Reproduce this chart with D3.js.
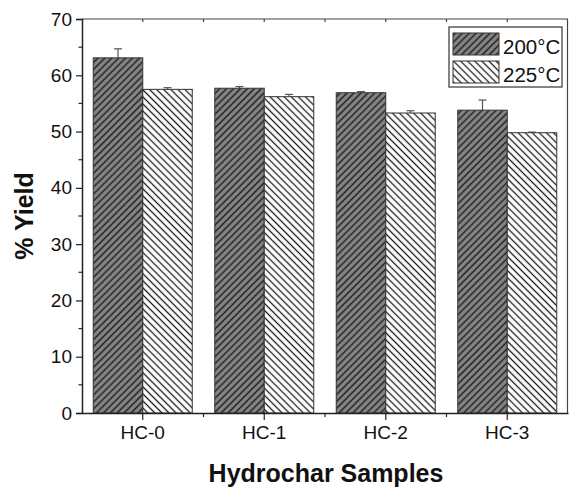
<!DOCTYPE html>
<html><head><meta charset="utf-8">
<script src="https://cdn.jsdelivr.net/npm/d3@7"></script>
<style>html,body{margin:0;padding:0;background:#fff;}svg{display:block;font-family:"Liberation Sans",Arial,sans-serif;}</style>
</head><body>
<script>
const categories = ["HC-0","HC-1","HC-2","HC-3"];
const seriesNames = ["200°C","225°C"];
const yield200 = [63.1, 57.7, 56.9, 53.8];
const err200 = [1.6, 0.3, 0.2, 1.8];
const yield225 = [57.5, 56.2, 53.3, 49.8];
const err225 = [0.3, 0.4, 0.4, 0.1];
const yTicks = [0,10,20,30,40,50,60,70];

const W = 569, H = 490;
const m = {left:82, right:1, top:19, bottom:77};
const svg = d3.select("body").append("svg").attr("width",W).attr("height",H);
const defs = svg.append("defs");
function hatch(id, bg, angle, stroke, sp, sw){
  const p = defs.append("pattern").attr("id",id).attr("patternUnits","userSpaceOnUse")
    .attr("width",sp).attr("height",sp).attr("patternTransform",`rotate(${angle})`);
  p.append("rect").attr("width",sp).attr("height",sp).attr("fill",bg);
  p.append("line").attr("x1",sp/2).attr("x2",sp/2).attr("y1",0).attr("y2",sp).attr("stroke",stroke).attr("stroke-width",sw);
}
hatch("h200","#878787",45,"#1e1e1e",4.9,1.5);
hatch("h225","#ffffff",-45,"#1a1a1a",5.0,1.3);
const fills = ["url(#h200)","url(#h225)"];

const x = d3.scaleBand().domain(categories).range([m.left, W-m.right]);
const y = d3.scaleLinear().domain([0,70]).range([H-m.bottom, m.top]);
const barW = 49.5;
const xs = d3.scaleBand().domain(seriesNames).range([0, barW*2]);

const data = [];
categories.forEach((c,i)=>{
  data.push({c, s:seriesNames[0], v:yield200[i], e:err200[i]});
  data.push({c, s:seriesNames[1], v:yield225[i], e:err225[i]});
});

const off = (x.bandwidth()-barW*2)/2;
const g = svg.append("g");
// error bars
g.selectAll("g.err").data(data).join("g").attr("class","err").each(function(d){
  const cx = x(d.c)+off+xs(d.s)+barW/2;
  const s = d3.select(this);
  s.append("line").attr("x1",cx).attr("x2",cx).attr("y1",y(d.v)).attr("y2",y(d.v+d.e)).attr("stroke","#555").attr("stroke-width",1.2);
  s.append("line").attr("x1",cx-4).attr("x2",cx+4).attr("y1",y(d.v+d.e)).attr("y2",y(d.v+d.e)).attr("stroke","#555").attr("stroke-width",1.2);
});
g.selectAll("rect.bar").data(data).join("rect").attr("class","bar")
  .attr("x",d=>x(d.c)+off+xs(d.s)).attr("width",barW)
  .attr("y",d=>y(d.v)).attr("height",d=>y(0)-y(d.v))
  .attr("fill",d=>fills[seriesNames.indexOf(d.s)])
  .attr("stroke","#333").attr("stroke-width",1);

// frame
const x0 = m.left, x1 = W-m.right, yT = m.top, yB = H-m.bottom;
svg.append("line").attr("x1",x0).attr("x2",x1).attr("y1",yT).attr("y2",yT).attr("stroke","#444").attr("stroke-width",1.2);
svg.append("line").attr("x1",x1-0.5).attr("x2",x1-0.5).attr("y1",yT).attr("y2",yB).attr("stroke","#444").attr("stroke-width",1.2);

// y axis
const yAx = svg.append("g").attr("transform",`translate(${x0},0)`)
  .call(d3.axisLeft(y).tickValues(yTicks).tickSize(6).tickPadding(4));
yAx.select(".domain").attr("stroke","#222").attr("stroke-width",1.5);
yAx.selectAll(".tick line").attr("stroke","#222").attr("stroke-width",1.2);
yAx.selectAll("text").attr("font-size",19).attr("fill","#111").attr("font-family","Liberation Sans, Arial, sans-serif");
// minor y ticks
const minorY = yTicks.slice(0,-1).map(v=>v+5);
svg.append("g").selectAll("line").data(minorY).join("line")
  .attr("x1",x0-3.5).attr("x2",x0).attr("y1",d=>y(d)).attr("y2",d=>y(d)).attr("stroke","#222").attr("stroke-width",1.2);

// x axis
const xAx = svg.append("g").attr("transform",`translate(0,${yB})`)
  .call(d3.axisBottom(x).tickSize(7).tickPadding(6).tickSizeOuter(0));
xAx.select(".domain").attr("stroke","#222").attr("stroke-width",1.5);
xAx.selectAll(".tick line").attr("stroke","#222").attr("stroke-width",1.2);
xAx.selectAll("text").attr("font-size",19).attr("fill","#111").attr("font-family","Liberation Sans, Arial, sans-serif");
// minor x ticks (between categories) bottom and top
const minorX = categories.slice(1).map(c=>x(c));
svg.append("g").selectAll("line").data(minorX).join("line")
  .attr("x1",d=>d).attr("x2",d=>d).attr("y1",yB).attr("y2",yB+4).attr("stroke","#222").attr("stroke-width",1.2);
const topTicks = categories.map(c=>x(c)+x.bandwidth()/2).concat(minorX);
svg.append("g").selectAll("line").data(topTicks).join("line")
  .attr("x1",d=>d).attr("x2",d=>d).attr("y1",yT).attr("y2",yT+3).attr("stroke","#444").attr("stroke-width",1.2);

// axis titles
svg.append("text").attr("x",326).attr("y",482).attr("text-anchor","middle")
  .attr("font-size",25).attr("font-weight","bold").attr("fill","#111").text("Hydrochar Samples");
svg.append("text").attr("transform","translate(33,216) rotate(-90)").attr("text-anchor","middle")
  .attr("font-size",25).attr("font-weight","bold").attr("fill","#111").text("% Yield");

// legend
const lg = svg.append("g");
lg.append("rect").attr("x",449).attr("y",27).attr("width",113).attr("height",60)
  .attr("fill","#fff").attr("stroke","#333").attr("stroke-width",1.2);
seriesNames.forEach((s,i)=>{
  const yy = 33 + i*28;
  lg.append("rect").attr("x",453).attr("y",yy).attr("width",46).attr("height",22)
    .attr("fill",fills[i]).attr("stroke","#333").attr("stroke-width",1);
  lg.append("text").attr("x",503).attr("y",yy+21).attr("font-size",20.5).attr("fill","#111").text(s);
});
</script>
</body></html>
